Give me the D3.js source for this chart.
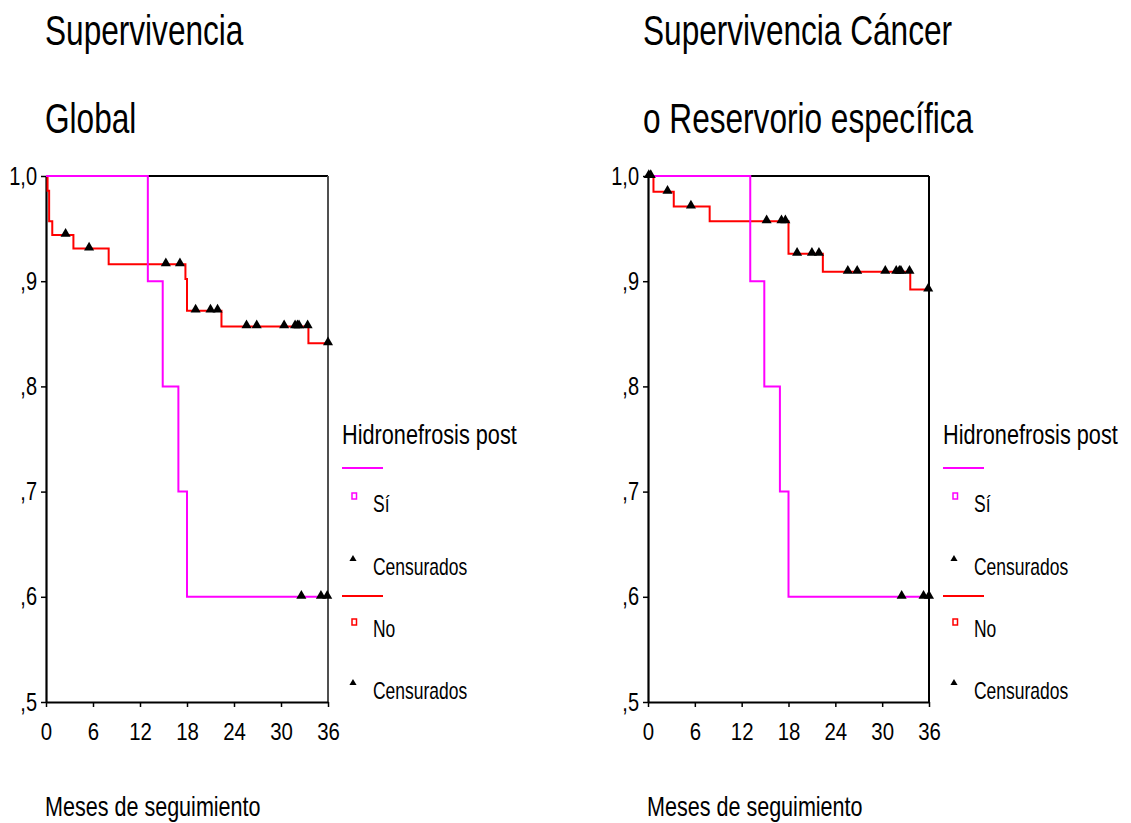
<!DOCTYPE html>
<html>
<head>
<meta charset="utf-8">
<script src="https://cdn.jsdelivr.net/npm/d3@7"></script>
<style>
  html, body { margin: 0; padding: 0; background: #fff; }
  svg { display: block; }
  text { font-family: "Liberation Sans", Arial, sans-serif; fill: #000; }
</style>
</head>
<body>
<svg id="chart" width="1131" height="823"></svg>
<script>
// ---- Data: Kaplan-Meier step curves (time in months, cumulative survival) ----
const xTicks = [0, 6, 12, 18, 24, 30, 36];
const yTicks = [1.0, 0.9, 0.8, 0.7, 0.6, 0.5];
const yTickLabels = ["1,0", ",9", ",8", ",7", ",6", ",5"];

const groupNames = ["Sí", "No"];
const legendTitle = "Hidronefrosis post";
const censorLabel = "Censurados";
const xTitle = "Meses de seguimiento";

// Overall survival
const globalSiTime = [0, 13.0, 14.9, 16.9, 18.0, 36];
const globalSiSurv = [1.0, 0.9, 0.8, 0.7, 0.6, 0.6];
const globalSiCens = [32.6, 35.1, 35.9];
const globalNoTime = [0, 0.2, 0.4, 0.8, 3.5, 8.0, 17.8, 18.0, 22.4, 33.5, 36];
const globalNoSurv = [1.0, 0.986, 0.957, 0.944, 0.931, 0.916, 0.902, 0.872, 0.857, 0.841, 0.841];
const globalNoCens = [2.5, 5.5, 15.3, 17.1, 19.1, 21.0, 21.9, 25.6, 26.9, 30.4, 31.8, 32.1, 32.3, 33.4, 36.0];

// Cancer / reservoir specific survival
const cancerSiTime = [0, 13.1, 14.9, 16.9, 18.0, 36];
const cancerSiSurv = [1.0, 0.9, 0.8, 0.7, 0.6, 0.6];
const cancerSiCens = [32.5, 35.3, 36.0];
const cancerNoTime = [0, 0.7, 3.3, 7.9, 18.0, 22.4, 33.6, 36];
const cancerNoSurv = [1.0, 0.985, 0.971, 0.957, 0.926, 0.909, 0.892, 0.892];
const cancerNoCens = [0.1, 0.35, 2.5, 5.5, 15.2, 17.1, 17.6, 19.1, 21.0, 21.9, 25.6, 26.8, 30.4, 31.8, 32.2, 32.4, 33.5, 35.9];

const colors = { si: "#ff00ff", no: "#ff0000" };

// ---- Layout of the two panels ----
const panels = [
  {
    title: ["Supervivencia", "Global"],
    titleX: 45, left: 46, right: 328, top: 176, bottom: 702,
    legendX: 342, frameColor: "#505050",
    si: { time: globalSiTime, surv: globalSiSurv, cens: globalSiCens },
    no: { time: globalNoTime, surv: globalNoSurv, cens: globalNoCens }
  },
  {
    title: ["Supervivencia Cáncer", "o Reservorio específica"],
    titleX: 643, left: 648, right: 929, top: 176, bottom: 702,
    legendX: 943, frameColor: "#000",
    si: { time: cancerSiTime, surv: cancerSiSurv, cens: cancerSiCens },
    no: { time: cancerNoTime, surv: cancerNoSurv, cens: cancerNoCens }
  }
];

const svg = d3.select("#chart");

// Text drawn in a narrow (horizontally compressed) face
function label(g, x, y, str, size, sx, anchor) {
  return g.append("text")
    .attr("transform", `translate(${x},${y}) scale(${sx},1)`)
    .attr("text-anchor", anchor || "start")
    .style("font-size", size + "px")
    .text(str);
}

function survAt(series, t) {
  const i = d3.bisectRight(series.time, t) - 1;
  return series.surv[Math.max(0, i)];
}

const triangle = d3.symbol().type(d3.symbolTriangle);

panels.forEach(p => {
  const g = svg.append("g");
  const x = d3.scaleLinear().domain([0, 36]).range([p.left, p.right]);
  const y = d3.scaleLinear().domain([0.5, 1.0]).range([p.bottom, p.top]);

  // Titles
  label(g, p.titleX, 45, p.title[0], 43, 0.735);
  label(g, p.titleX, 133, p.title[1], 43, 0.735);

  // Frame: top and right edges
  g.append("line").attr("x1", p.left).attr("x2", p.right)
    .attr("y1", p.top).attr("y2", p.top)
    .attr("stroke", "#000").attr("stroke-width", 2);
  g.append("line").attr("x1", p.right).attr("x2", p.right)
    .attr("y1", p.top).attr("y2", p.bottom)
    .attr("stroke", p.frameColor).attr("stroke-width", 2);

  // Y axis
  const yAxis = g.append("g")
    .attr("transform", `translate(${p.left},0)`)
    .call(d3.axisLeft(y).tickValues(yTicks).tickSize(5).tickSizeOuter(0)
      .tickFormat((d, i) => yTickLabels[i]));
  yAxis.select(".domain").attr("stroke", "#000").attr("stroke-width", 2.2);
  yAxis.selectAll(".tick line").attr("stroke", "#000").attr("stroke-width", 1.5);
  yAxis.selectAll(".tick text")
    .attr("x", null).attr("dy", null)
    .attr("transform", "translate(-9,8) scale(0.8,1)")
    .style("font-size", "25px")
    .style("font-family", "'Liberation Sans', Arial, sans-serif")
    .attr("fill", "#000");

  // X axis
  const xAxis = g.append("g")
    .attr("transform", `translate(0,${p.bottom})`)
    .call(d3.axisBottom(x).tickValues(xTicks).tickSize(5).tickSizeOuter(0)
      .tickFormat(d3.format("d")));
  xAxis.select(".domain").attr("stroke", "#000").attr("stroke-width", 2.2);
  xAxis.selectAll(".tick line").attr("stroke", "#000").attr("stroke-width", 1.5);
  xAxis.selectAll(".tick text")
    .attr("y", null).attr("dy", null)
    .attr("transform", "translate(0,38) scale(0.85,1)")
    .style("font-size", "24px")
    .style("font-family", "'Liberation Sans', Arial, sans-serif")
    .attr("fill", "#000");

  // X axis title
  label(g, p.left - 1, 816, xTitle, 28, 0.77);

  // Survival step curves
  const line = d3.line()
    .x(d => x(d[0])).y(d => y(d[1]))
    .curve(d3.curveStepAfter);
  [["no", colors.no], ["si", colors.si]].forEach(([k, c]) => {
    const s = p[k];
    g.append("path")
      .datum(d3.zip(s.time, s.surv))
      .attr("d", line)
      .attr("fill", "none")
      .attr("stroke", c)
      .attr("stroke-width", 2);
  });

  // Censored observations
  ["no", "si"].forEach(k => {
    const s = p[k];
    g.selectAll(null)
      .data(s.cens)
      .join("path")
      .attr("d", triangle.size(44))
      .attr("transform", d => `translate(${x(d)},${y(survAt(s, d)) - 1})`)
      .attr("fill", "#000");
  });

  // Legend
  const lx = p.legendX;
  const tx = lx + 31;
  label(g, lx, 444, legendTitle, 28, 0.775);
  const items = [
    { name: groupNames[0], color: colors.si, lineY: 468, boxY: 496, textY: 512, triY: 559, censY: 575 },
    { name: groupNames[1], color: colors.no, lineY: 596, boxY: 622, textY: 637, triY: 683, censY: 699 }
  ];
  items.forEach(it => {
    g.append("line").attr("x1", lx).attr("x2", lx + 41)
      .attr("y1", it.lineY).attr("y2", it.lineY)
      .attr("stroke", it.color).attr("stroke-width", 2);
    g.append("rect").attr("x", lx + 10).attr("y", it.boxY - 3)
      .attr("width", 4.5).attr("height", 6)
      .attr("fill", "#fff").attr("stroke", it.color).attr("stroke-width", 1.5);
    label(g, tx, it.textY, it.name, 23, 0.76);
    g.append("path").attr("d", triangle.size(22))
      .attr("transform", `translate(${lx + 11},${it.triY})`)
      .attr("fill", "#000");
    label(g, tx, it.censY, censorLabel, 23, 0.76);
  });
});
</script>
</body>
</html>
